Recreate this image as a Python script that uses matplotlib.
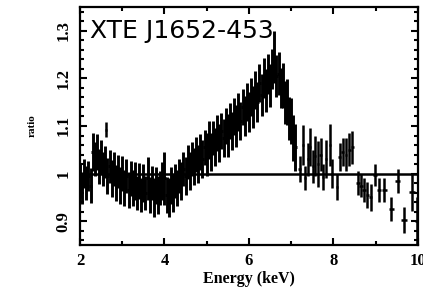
import matplotlib
matplotlib.use("Agg")
import matplotlib.pyplot as plt
from matplotlib.ticker import MultipleLocator, FixedLocator

# Dense part of the spectrum (ratio data/model)
energy = [2.00, 2.05, 2.10, 2.15, 2.20, 2.25, 2.30, 2.35, 2.40, 2.45,
          2.50, 2.55, 2.60, 2.65, 2.70, 2.75, 2.80, 2.85, 2.90, 2.95,
          3.00, 3.05, 3.10, 3.15, 3.20, 3.25, 3.30, 3.35, 3.40, 3.45,
          3.50, 3.55, 3.60, 3.65, 3.70, 3.75, 3.80, 3.85, 3.90, 3.95,
          4.00, 4.05, 4.10, 4.15, 4.20, 4.25, 4.30, 4.35, 4.40, 4.45,
          4.50, 4.55, 4.60, 4.65, 4.70, 4.75, 4.80, 4.85, 4.90, 4.95,
          5.00, 5.05, 5.10, 5.15, 5.20, 5.25, 5.30, 5.35, 5.40, 5.45,
          5.50, 5.55, 5.60, 5.65, 5.70, 5.75, 5.80, 5.85, 5.90, 5.95,
          6.00, 6.05, 6.10, 6.15, 6.20, 6.25, 6.30, 6.35, 6.40, 6.45,
          6.50, 6.55, 6.60, 6.65, 6.70, 6.75, 6.80, 6.85, 6.90, 6.95,
          7.00, 7.05, 7.10]
ratio = [0.985, 0.970, 1.000, 0.980, 0.995, 0.975, 1.045, 1.030, 1.045, 1.015,
         1.035, 1.010, 1.025, 0.995, 1.015, 0.990, 1.010, 0.980, 1.005, 0.975,
         1.000, 0.970, 0.995, 0.965, 0.990, 0.970, 0.985, 0.960, 0.985, 0.955,
         0.980, 0.960, 0.990, 0.955, 0.980, 0.950, 0.975, 0.955, 0.970, 0.985,
         0.990, 0.955, 0.950, 0.975, 0.960, 0.985, 0.970, 0.995, 0.985, 1.010,
         0.995, 1.025, 1.005, 1.030, 1.015, 1.040, 1.020, 1.045, 1.030, 1.055,
         1.040, 1.070, 1.045, 1.075, 1.055, 1.085, 1.065, 1.090, 1.075, 1.100,
         1.080, 1.110, 1.090, 1.120, 1.100, 1.130, 1.110, 1.140, 1.120, 1.150,
         1.130, 1.160, 1.140, 1.175, 1.150, 1.190, 1.165, 1.200, 1.175, 1.210,
         1.185, 1.220, 1.245, 1.205, 1.210, 1.180, 1.185, 1.150, 1.150, 1.115,
         1.110, 1.075, 1.055]
ratio_err = [0.036, 0.034, 0.030, 0.035, 0.032, 0.036, 0.040, 0.036, 0.038, 0.036,
             0.035, 0.036, 0.034, 0.038, 0.035, 0.038, 0.036, 0.038, 0.035, 0.038,
             0.036, 0.038, 0.035, 0.038, 0.036, 0.038, 0.040, 0.036, 0.038, 0.036,
             0.040, 0.036, 0.045, 0.038, 0.036, 0.040, 0.038, 0.040, 0.036, 0.040,
             0.055, 0.038, 0.040, 0.038, 0.040, 0.036, 0.038, 0.036, 0.040, 0.036,
             0.040, 0.036, 0.040, 0.036, 0.038, 0.036, 0.040, 0.038, 0.040, 0.036,
             0.045, 0.040, 0.040, 0.036, 0.040, 0.038, 0.040, 0.038, 0.040, 0.038,
             0.045, 0.038, 0.040, 0.038, 0.045, 0.040, 0.040, 0.038, 0.042, 0.040,
             0.042, 0.040, 0.045, 0.040, 0.042, 0.040, 0.045, 0.042, 0.045, 0.042,
             0.045, 0.042, 0.055, 0.045, 0.045, 0.042, 0.048, 0.045, 0.048, 0.045,
             0.048, 0.048, 0.050]

# Sparse part (isolated points and high-energy bins)
energy_sparse = [2.62, 7.20, 7.28, 7.33, 7.40, 7.45, 7.52, 7.56, 7.63, 7.70,
                 7.75, 7.82, 7.92, 7.97, 8.08, 8.15, 8.22, 8.30, 8.38, 8.45,
                 8.58, 8.65, 8.72, 8.80, 8.88, 8.98, 9.08, 9.20, 9.37, 9.52,
                 9.67, 9.85, 9.97]
ratio_sparse = [1.092, 1.010, 1.060, 0.990, 1.030, 1.056, 1.015, 1.036, 1.020, 1.040,
                0.993, 1.030, 1.060, 1.000, 0.972, 1.035, 1.045, 1.040, 1.050, 1.055,
                0.980, 0.975, 0.965, 0.955, 0.950, 0.998, 0.965, 0.965, 0.925, 0.985,
                0.903, 0.962, 0.900]
ratio_sparse_err = [0.016, 0.027, 0.042, 0.025, 0.035, 0.040, 0.035, 0.042, 0.048, 0.035,
                    0.027, 0.040, 0.045, 0.030, 0.028, 0.030, 0.030, 0.035, 0.035, 0.035,
                    0.025, 0.025, 0.025, 0.028, 0.028, 0.023, 0.025, 0.025, 0.025, 0.025,
                    0.028, 0.040, 0.050]
energy_sparse_err = [0.025, 0.03, 0.03, 0.03, 0.03, 0.03, 0.03, 0.03, 0.03, 0.03,
                     0.03, 0.03, 0.03, 0.03, 0.03, 0.03, 0.03, 0.03, 0.03, 0.03,
                     0.04, 0.04, 0.04, 0.04, 0.04, 0.04, 0.05, 0.06, 0.06, 0.06,
                     0.07, 0.07, 0.05]

x_ticks = [2, 4, 6, 8, 10]
y_ticks = [0.9, 1.0, 1.1, 1.2, 1.3]
y_ticklabels = ["0.9", "1", "1.1", "1.2", "1.3"]

fig = plt.figure(figsize=(4.23, 3.0), dpi=100)
ax = fig.add_axes([0.189, 0.183, 0.799, 0.794])

serif = ["Liberation Serif", "DejaVu Serif"]

ax.axhline(1.0, color="black", lw=1.8, zorder=1)
ax.errorbar(energy, ratio, yerr=ratio_err, xerr=0.03, fmt="none",
            ecolor="black", elinewidth=2.1, capsize=0, zorder=2)
ax.errorbar(energy_sparse, ratio_sparse, yerr=ratio_sparse_err,
            xerr=energy_sparse_err, fmt="none", ecolor="black",
            elinewidth=1.8, capsize=0, zorder=2)

ax.set_xlim(2, 10)
ax.set_ylim(0.85, 1.35)

ax.xaxis.set_major_locator(FixedLocator(x_ticks))
ax.xaxis.set_minor_locator(MultipleLocator(1))
ax.yaxis.set_major_locator(FixedLocator(y_ticks))
ax.yaxis.set_minor_locator(MultipleLocator(0.02))
ax.set_xticklabels([str(t) for t in x_ticks])
ax.set_yticklabels(y_ticklabels)

ax.tick_params(which="both", direction="in", top=True, right=True, width=1.5)
ax.tick_params(which="major", length=5)
ax.tick_params(which="minor", length=3)
ax.tick_params(axis="x", which="major", pad=6)
ax.tick_params(axis="y", which="major", pad=6)

for lab in ax.get_xticklabels():
    lab.set_fontfamily(serif)
    lab.set_fontweight("bold")
    lab.set_fontsize(12)
for lab in ax.get_yticklabels():
    lab.set_fontfamily(serif)
    lab.set_fontweight("bold")
    lab.set_fontsize(12)
    lab.set_rotation(90)
    lab.set_va("center")

for sp in ax.spines.values():
    sp.set_linewidth(1.6)

ax.set_xlabel("Energy (keV)", fontfamily=serif, fontweight="bold",
              fontsize=11.5, labelpad=1)
ax.set_ylabel("ratio", fontfamily=serif, fontweight="bold", fontsize=8,
              labelpad=14)

ax.text(0.03, 0.87, "XTE J1652-453", transform=ax.transAxes,
        fontfamily="DejaVu Sans", fontsize=18, color="black",
        ha="left", va="baseline", zorder=5)

fig.savefig("out.png", dpi=100)
